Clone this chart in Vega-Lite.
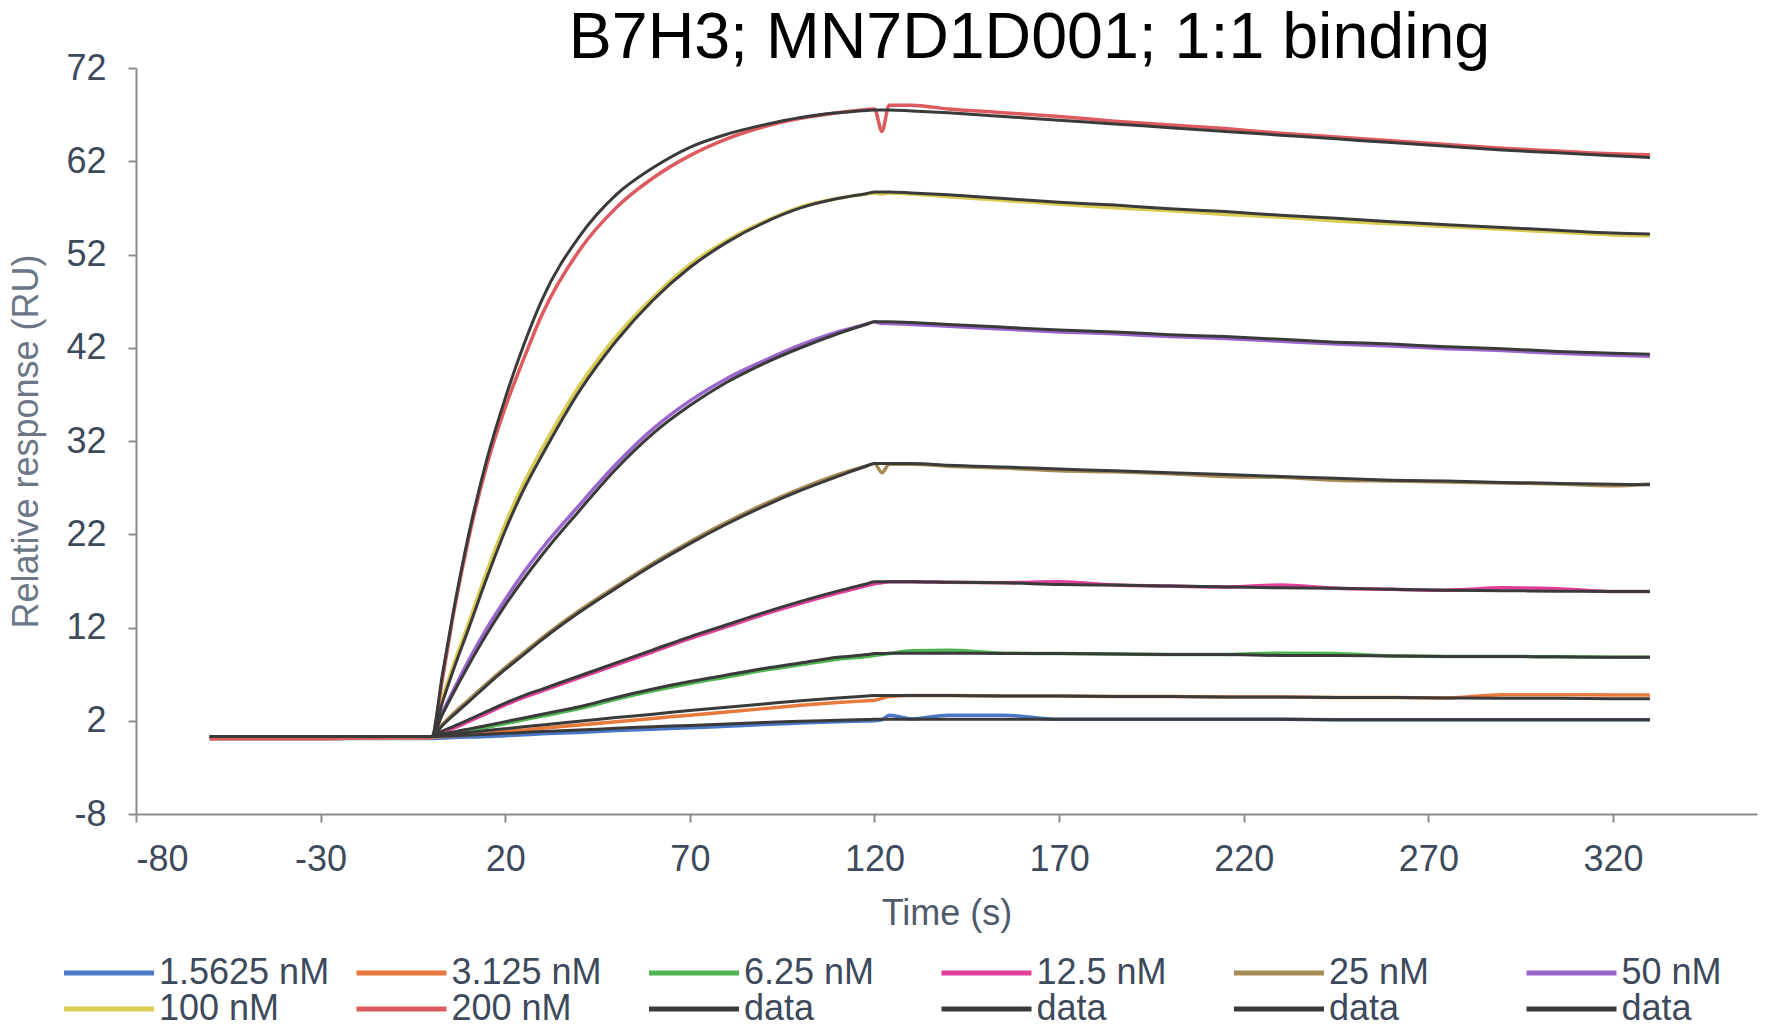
{
  "$schema": "https://vega.github.io/schema/vega-lite/v6.json",
  "width": 1621,
  "height": 746,
  "autosize": {"type": "none"},
  "padding": {"left": 136, "top": 68, "right": 15, "bottom": 213},
  "background": "white",
  "config": {"view": {"stroke": null}, "font": "Liberation Sans"},
  "title": {"text": "B7H3; MN7D1D001; 1:1 binding", "fontSize": 64.5, "font": "Liberation Sans", "fontWeight": "normal", "color": "#000000", "anchor": "middle", "dx": 83, "offset": -21},
  "datasets": {
    "names": [
      {"k": "d1", "s": "1.5625 nM"}, {"k": "d2", "s": "3.125 nM"}, {"k": "d3", "s": "6.25 nM"}, {"k": "d4", "s": "12.5 nM"},
      {"k": "d5", "s": "25 nM"}, {"k": "d6", "s": "50 nM"}, {"k": "d7", "s": "100 nM"}, {"k": "d8", "s": "200 nM"},
      {"k": "f1", "s": "data1"}, {"k": "f2", "s": "data1"}, {"k": "f3", "s": "data2"}, {"k": "f4", "s": "data2"},
      {"k": "f5", "s": "data3"}, {"k": "f6", "s": "data3"}, {"k": "f7", "s": "data4"}, {"k": "f8", "s": "data4"}
    ],
    "sig": [
      {"t": -60, "d1": 0.1, "d2": 0.1, "d3": 0.1, "d4": 0.1, "d5": 0.1, "d6": 0.1, "d7": 0.1, "d8": 0.1, "f1": 0.3, "f2": 0.3, "f3": 0.3, "f4": 0.3, "f5": 0.3, "f6": 0.3, "f7": 0.3, "f8": 0.3},
      {"t": -30, "d1": 0.1, "d2": 0.1, "d3": 0.1, "d4": 0.1, "d5": 0.1, "d6": 0.1, "d7": 0.1, "d8": 0.1, "f1": 0.3, "f2": 0.3, "f3": 0.3, "f4": 0.3, "f5": 0.3, "f6": 0.3, "f7": 0.3, "f8": 0.3},
      {"t": 0, "d1": 0.1, "d2": 0.2, "d3": 0.2, "d4": 0.2, "d5": 0.2, "d6": 0.2, "d7": 0.2, "d8": 0.2, "f1": 0.3, "f2": 0.3, "f3": 0.3, "f4": 0.3, "f5": 0.3, "f6": 0.3, "f7": 0.3, "f8": 0.3},
      {"t": 3, "d1": 0.15, "d2": 0.3, "d3": 0.5, "d4": 0.8, "d5": 1.6, "d6": 2.9, "d7": 4.4, "d8": 6.5, "f1": 0.35, "f2": 0.45, "f3": 0.6, "f4": 0.9, "f5": 1.5, "f6": 2.7, "f7": 4.0, "f8": 7.0},
      {"t": 6, "d1": 0.2, "d2": 0.4, "d3": 0.7, "d4": 1.2, "d5": 2.8, "d6": 5.3, "d7": 8.0, "d8": 13.5, "f1": 0.4, "f2": 0.6, "f3": 0.8, "f4": 1.4, "f5": 2.6, "f6": 5.0, "f7": 7.5, "f8": 13.8},
      {"t": 10, "d1": 0.25, "d2": 0.5, "d3": 1.0, "d4": 1.9, "d5": 4.2, "d6": 8.4, "d7": 12.4, "d8": 21.4, "f1": 0.45, "f2": 0.75, "f3": 1.1, "f4": 2.1, "f5": 4.0, "f6": 7.9, "f7": 11.8, "f8": 21.8},
      {"t": 15, "d1": 0.3, "d2": 0.65, "d3": 1.3, "d4": 2.8, "d5": 6.0, "d6": 11.9, "d7": 18.0, "d8": 29.4, "f1": 0.55, "f2": 0.95, "f3": 1.5, "f4": 3.0, "f5": 5.8, "f6": 11.3, "f7": 17.3, "f8": 30.0},
      {"t": 20, "d1": 0.4, "d2": 0.85, "d3": 1.7, "d4": 3.7, "d5": 7.7, "d6": 15.0, "d7": 23.1, "d8": 35.6, "f1": 0.65, "f2": 1.15, "f3": 1.9, "f4": 3.9, "f5": 7.5, "f6": 14.4, "f7": 22.4, "f8": 36.6},
      {"t": 25, "d1": 0.5, "d2": 1.0, "d3": 2.1, "d4": 4.5, "d5": 9.3, "d6": 17.9, "d7": 27.5, "d8": 40.8, "f1": 0.75, "f2": 1.35, "f3": 2.3, "f4": 4.7, "f5": 9.1, "f6": 17.2, "f7": 26.8, "f8": 42.3},
      {"t": 30, "d1": 0.6, "d2": 1.2, "d3": 2.5, "d4": 5.2, "d5": 10.9, "d6": 20.5, "d7": 31.2, "d8": 45.6, "f1": 0.85, "f2": 1.55, "f3": 2.7, "f4": 5.4, "f5": 10.7, "f6": 19.8, "f7": 30.5, "f8": 47.2},
      {"t": 40, "d1": 0.75, "d2": 1.55, "d3": 3.3, "d4": 6.6, "d5": 13.8, "d6": 25.1, "d7": 37.9, "d8": 52.4, "f1": 1.0, "f2": 1.95, "f3": 3.5, "f4": 6.8, "f5": 13.6, "f6": 24.5, "f7": 37.3, "f8": 53.9},
      {"t": 50, "d1": 0.95, "d2": 1.9, "d3": 4.3, "d4": 8.0, "d5": 16.4, "d6": 29.5, "d7": 43.2, "d8": 57.0, "f1": 1.2, "f2": 2.35, "f3": 4.5, "f4": 8.2, "f5": 16.2, "f6": 29.0, "f7": 42.7, "f8": 58.4},
      {"t": 60, "d1": 1.1, "d2": 2.25, "d3": 5.2, "d4": 9.4, "d5": 18.9, "d6": 33.3, "d7": 47.4, "d8": 60.2, "f1": 1.35, "f2": 2.7, "f3": 5.4, "f4": 9.6, "f5": 18.7, "f6": 32.8, "f7": 47.1, "f8": 61.3},
      {"t": 70, "d1": 1.25, "d2": 2.6, "d3": 6.0, "d4": 10.8, "d5": 21.2, "d6": 36.3, "d7": 50.9, "d8": 62.6, "f1": 1.5, "f2": 3.1, "f3": 6.2, "f4": 11.0, "f5": 21.0, "f6": 35.8, "f7": 50.6, "f8": 63.5},
      {"t": 80, "d1": 1.4, "d2": 2.95, "d3": 6.7, "d4": 12.1, "d5": 23.3, "d6": 38.7, "d7": 53.5, "d8": 64.4, "f1": 1.65, "f2": 3.45, "f3": 6.9, "f4": 12.3, "f5": 23.1, "f6": 38.3, "f7": 53.3, "f8": 64.9},
      {"t": 90, "d1": 1.6, "d2": 3.3, "d3": 7.4, "d4": 13.4, "d5": 25.2, "d6": 40.6, "d7": 55.5, "d8": 65.7, "f1": 1.8, "f2": 3.8, "f3": 7.6, "f4": 13.6, "f5": 25.0, "f6": 40.3, "f7": 55.4, "f8": 65.9},
      {"t": 100, "d1": 1.75, "d2": 3.65, "d3": 8.0, "d4": 14.6, "d5": 26.9, "d6": 42.3, "d7": 57.1, "d8": 66.6, "f1": 1.95, "f2": 4.15, "f3": 8.2, "f4": 14.8, "f5": 26.7, "f6": 42.0, "f7": 57.0, "f8": 66.7},
      {"t": 110, "d1": 1.9, "d2": 3.95, "d3": 8.6, "d4": 15.7, "d5": 28.4, "d6": 43.7, "d7": 58.0, "d8": 67.2, "f1": 2.05, "f2": 4.45, "f3": 8.8, "f4": 15.9, "f5": 28.2, "f6": 43.5, "f7": 58.0, "f8": 67.2},
      {"t": 118, "d1": 1.98, "d2": 4.15, "d3": 8.9, "d4": 16.5, "d5": 29.35, "d6": 44.55, "d7": 58.5, "d8": 67.55, "f1": 2.13, "f2": 4.65, "f3": 9.1, "f4": 16.7, "f5": 29.35, "f6": 44.55, "f7": 58.55, "f8": 67.45},
      {"t": 120, "d1": 2.0, "d2": 4.2, "d3": 9.0, "d4": 16.7, "d5": 29.6, "d6": 44.8, "d7": 58.6, "d8": 67.6, "f1": 2.15, "f2": 4.7, "f3": 9.2, "f4": 16.9, "f5": 29.6, "f6": 44.8, "f7": 58.7, "f8": 67.5},
      {"t": 122, "d1": 2.1, "d2": 4.4, "d3": 9.1, "d4": 16.8, "d5": 28.6, "d6": 44.6, "d7": 58.5, "d8": 65.2, "f1": 2.15, "f2": 4.7, "f3": 9.2, "f4": 16.9, "f5": 29.6, "f6": 44.8, "f7": 58.7, "f8": 67.5},
      {"t": 124, "d1": 2.6, "d2": 4.6, "d3": 9.2, "d4": 16.9, "d5": 29.5, "d6": 44.6, "d7": 58.6, "d8": 68.0, "f1": 2.15, "f2": 4.7, "f3": 9.25, "f4": 16.9, "f5": 29.6, "f6": 44.8, "f7": 58.7, "f8": 67.5},
      {"t": 130, "d1": 2.2, "d2": 4.7, "d3": 9.5, "d4": 16.9, "d5": 29.5, "d6": 44.5, "d7": 58.5, "d8": 68.0, "f1": 2.15, "f2": 4.7, "f3": 9.25, "f4": 16.9, "f5": 29.6, "f6": 44.7, "f7": 58.6, "f8": 67.4},
      {"t": 140, "d1": 2.6, "d2": 4.7, "d3": 9.55, "d4": 16.85, "d5": 29.3, "d6": 44.3, "d7": 58.2, "d8": 67.6, "f1": 2.15, "f2": 4.7, "f3": 9.25, "f4": 16.85, "f5": 29.4, "f6": 44.5, "f7": 58.4, "f8": 67.2},
      {"t": 155, "d1": 2.6, "d2": 4.65, "d3": 9.25, "d4": 16.8, "d5": 29.1, "d6": 44.0, "d7": 57.8, "d8": 67.2, "f1": 2.15, "f2": 4.65, "f3": 9.2, "f4": 16.8, "f5": 29.2, "f6": 44.2, "f7": 58.0, "f8": 66.8},
      {"t": 170, "d1": 2.15, "d2": 4.65, "d3": 9.2, "d4": 16.9, "d5": 28.8, "d6": 43.7, "d7": 57.4, "d8": 66.8, "f1": 2.15, "f2": 4.65, "f3": 9.2, "f4": 16.6, "f5": 29.0, "f6": 43.9, "f7": 57.6, "f8": 66.4},
      {"t": 185, "d1": 2.15, "d2": 4.6, "d3": 9.15, "d4": 16.55, "d5": 28.7, "d6": 43.5, "d7": 57.0, "d8": 66.3, "f1": 2.15, "f2": 4.6, "f3": 9.15, "f4": 16.55, "f5": 28.8, "f6": 43.7, "f7": 57.3, "f8": 66.0},
      {"t": 200, "d1": 2.15, "d2": 4.6, "d3": 9.1, "d4": 16.45, "d5": 28.5, "d6": 43.2, "d7": 56.7, "d8": 65.9, "f1": 2.15, "f2": 4.6, "f3": 9.1, "f4": 16.45, "f5": 28.6, "f6": 43.4, "f7": 56.9, "f8": 65.6},
      {"t": 215, "d1": 2.15, "d2": 4.55, "d3": 9.1, "d4": 16.35, "d5": 28.2, "d6": 43.0, "d7": 56.3, "d8": 65.5, "f1": 2.15, "f2": 4.55, "f3": 9.1, "f4": 16.35, "f5": 28.4, "f6": 43.2, "f7": 56.6, "f8": 65.2},
      {"t": 230, "d1": 2.15, "d2": 4.55, "d3": 9.25, "d4": 16.55, "d5": 28.1, "d6": 42.7, "d7": 56.0, "d8": 65.0, "f1": 2.15, "f2": 4.55, "f3": 9.0, "f4": 16.25, "f5": 28.2, "f6": 42.9, "f7": 56.2, "f8": 64.8},
      {"t": 245, "d1": 2.1, "d2": 4.5, "d3": 9.2, "d4": 16.2, "d5": 27.8, "d6": 42.4, "d7": 55.6, "d8": 64.6, "f1": 2.1, "f2": 4.5, "f3": 9.0, "f4": 16.2, "f5": 28.0, "f6": 42.6, "f7": 55.9, "f8": 64.4},
      {"t": 260, "d1": 2.1, "d2": 4.5, "d3": 8.95, "d4": 16.1, "d5": 27.7, "d6": 42.2, "d7": 55.3, "d8": 64.2, "f1": 2.1, "f2": 4.5, "f3": 8.95, "f4": 16.1, "f5": 27.8, "f6": 42.4, "f7": 55.5, "f8": 64.0},
      {"t": 275, "d1": 2.1, "d2": 4.45, "d3": 8.9, "d4": 16.0, "d5": 27.6, "d6": 41.9, "d7": 55.0, "d8": 63.8, "f1": 2.1, "f2": 4.45, "f3": 8.9, "f4": 16.0, "f5": 27.7, "f6": 42.1, "f7": 55.2, "f8": 63.6},
      {"t": 290, "d1": 2.1, "d2": 4.8, "d3": 8.9, "d4": 16.25, "d5": 27.5, "d6": 41.7, "d7": 54.7, "d8": 63.4, "f1": 2.1, "f2": 4.4, "f3": 8.9, "f4": 15.95, "f5": 27.55, "f6": 41.9, "f7": 54.9, "f8": 63.2},
      {"t": 305, "d1": 2.1, "d2": 4.8, "d3": 8.85, "d4": 16.15, "d5": 27.4, "d6": 41.4, "d7": 54.4, "d8": 63.1, "f1": 2.1, "f2": 4.4, "f3": 8.85, "f4": 15.9, "f5": 27.45, "f6": 41.6, "f7": 54.6, "f8": 62.9},
      {"t": 320, "d1": 2.1, "d2": 4.75, "d3": 8.8, "d4": 15.85, "d5": 27.2, "d6": 41.2, "d7": 54.1, "d8": 62.8, "f1": 2.1, "f2": 4.35, "f3": 8.8, "f4": 15.85, "f5": 27.35, "f6": 41.4, "f7": 54.3, "f8": 62.6},
      {"t": 330, "d1": 2.1, "d2": 4.75, "d3": 8.8, "d4": 15.85, "d5": 27.4, "d6": 41.1, "d7": 54.0, "d8": 62.7, "f1": 2.1, "f2": 4.35, "f3": 8.8, "f4": 15.85, "f5": 27.3, "f6": 41.3, "f7": 54.2, "f8": 62.4}
    ]
  },
  "data": {"name": "sig"},
  "encoding": {
    "x": {
      "field": "t", "type": "quantitative",
      "scale": {"domain": [-80, 359], "nice": false, "zero": false},
      "axis": {
        "values": [-80, -30, 20, 70, 120, 170, 220, 270, 320],
        "labelExpr": "toString(datum.value)",
        "title": "Time  (s)", "grid": false,
        "domainColor": "#8c8c8c", "domainWidth": 2, "tickColor": "#8c8c8c", "tickWidth": 2, "tickSize": 8,
        "labelFont": "Liberation Sans", "labelFontSize": 36, "labelColor": "#3d4a5c", "labelPadding": 20,
        "titleFont": "Liberation Sans", "titleFontSize": 36, "titleFontWeight": "normal", "titleColor": "#4f5b6b", "titlePadding": 19
      }
    },
    "y": {
      "field": "value", "type": "quantitative",
      "scale": {"domain": [-8, 72], "nice": false, "zero": false},
      "axis": {
        "values": [-8, 2, 12, 22, 32, 42, 52, 62, 72],
        "labelExpr": "toString(datum.value)",
        "title": "Relative response (RU)", "grid": false,
        "domainColor": "#8c8c8c", "domainWidth": 2, "tickColor": "#8c8c8c", "tickWidth": 2, "tickSize": 8,
        "labelFont": "Liberation Sans", "labelFontSize": 36, "labelColor": "#3d4a5c", "labelPadding": 22,
        "titleFont": "Liberation Sans", "titleFontSize": 36, "titleFontWeight": "normal", "titleColor": "#6b7786", "titlePadding": 20
      }
    },
    "color": {
      "field": "s", "type": "nominal",
      "scale": {
        "domain": ["1.5625 nM", "3.125 nM", "6.25 nM", "12.5 nM", "25 nM", "50 nM", "100 nM", "200 nM", "data1", "data2", "data3", "data4"],
        "range": ["#4a78c6", "#e8793c", "#4fb552", "#e0409a", "#a68b55", "#9a66cc", "#d8cc52", "#dd5a5e", "#3a3a3a", "#3a3a3a", "#3a3a3a", "#3a3a3a"]
      },
      "legend": {
        "orient": "none", "legendX": -45, "legendY": 887, "direction": "horizontal", "columns": 6,
        "title": null, "symbolType": "M-3,0H3", "symbolSize": 900, "symbolStrokeWidth": 5,
        "labelFont": "Liberation Sans", "labelFontSize": 36, "labelColor": "#3d4a5c", "labelLimit": 400, "labelOffset": 32,
        "columnPadding": 16.5, "rowPadding": 0, "gridAlign": "all", "padding": 0,
        "labelExpr": "indexof(datum.label, 'data') == 0 ? 'data' : datum.label"
      }
    },
    "detail": {"field": "key", "type": "nominal"}
  },
  "layer": [
    {
      "transform": [
        {"fold": ["d1", "d2", "d3", "d4", "d5", "d6", "d7", "d8"]},
        {"lookup": "key", "from": {"data": {"name": "names"}, "key": "k", "fields": ["s"]}}
      ],
      "mark": {"type": "line", "strokeWidth": 3.5, "interpolate": "monotone"}
    },
    {
      "transform": [
        {"fold": ["f1", "f2", "f3", "f4", "f5", "f6", "f7", "f8"]},
        {"lookup": "key", "from": {"data": {"name": "names"}, "key": "k", "fields": ["s"]}}
      ],
      "mark": {"type": "line", "strokeWidth": 3, "interpolate": "monotone"}
    }
  ]
}
